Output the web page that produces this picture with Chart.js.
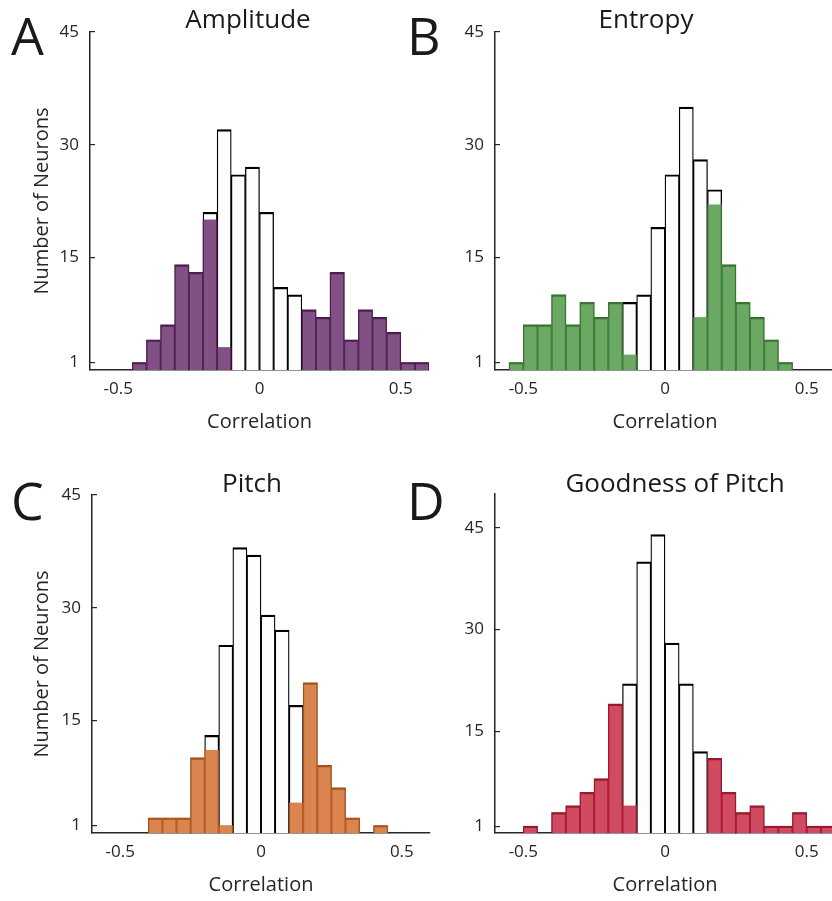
<!DOCTYPE html>
<html>
<head>
<meta charset="utf-8">
<script src="https://cdn.jsdelivr.net/npm/chart.js@4/dist/chart.umd.min.js"></script>
<style>
  html, body { margin: 0; padding: 0; background: #fff; overflow: hidden; width: 832px; height: 901px; position: relative; }
  canvas { position: absolute; }
</style>
</head>
<body>
<canvas id="chartA" width="450" height="450" style="left:0;top:0"></canvas>
<canvas id="chartB" width="440" height="450" style="left:400px;top:0"></canvas>
<canvas id="chartC" width="450" height="463" style="left:0;top:450px"></canvas>
<canvas id="chartD" width="440" height="463" style="left:400px;top:450px"></canvas>
<script>
// bin centres (0.05 wide bins, -0.6 .. 0.6)
const binCenters = [-0.575, -0.525, -0.475, -0.425, -0.375, -0.325, -0.275, -0.225, -0.175, -0.125, -0.075, -0.025,
                    0.025, 0.075, 0.125, 0.175, 0.225, 0.275, 0.325, 0.375, 0.425, 0.475, 0.525, 0.575];
const xTicks = [-0.5, 0, 0.5];
const yTicks = [1, 15, 30, 45];

// all neurons / significant neurons per bin
const amplitudeAll = [0, 0, 0, 1, 4, 6, 14, 13, 21, 32, 26, 27, 21, 11, 10, 8, 7, 13, 4, 8, 7, 5, 1, 1];
const amplitudeSig = [0, 0, 0, 1, 4, 6, 14, 13, 20, 3, 0, 0, 0, 0, 0, 8, 7, 13, 4, 8, 7, 5, 1, 1];
const entropyAll = [0, 1, 6, 6, 10, 6, 9, 7, 9, 9, 10, 19, 26, 35, 28, 24, 14, 9, 7, 4, 1, 0, 0, 0];
const entropySig = [0, 1, 6, 6, 10, 6, 9, 7, 9, 2, 0, 0, 0, 0, 7, 22, 14, 9, 7, 4, 1, 0, 0, 0];
const pitchAll = [0, 0, 0, 0, 2, 2, 2, 10, 13, 25, 38, 37, 29, 27, 17, 20, 9, 6, 2, 0, 1, 0, 0, 0];
const pitchSig = [0, 0, 0, 0, 2, 2, 2, 10, 11, 1, 0, 0, 0, 0, 4, 20, 9, 6, 2, 0, 1, 0, 0, 0];
const goodnessAll = [0, 0, 1, 0, 3, 4, 6, 8, 19, 22, 40, 44, 28, 22, 12, 11, 6, 3, 4, 1, 1, 3, 1, 1];
const goodnessSig = [0, 0, 1, 0, 3, 4, 6, 8, 19, 4, 0, 0, 0, 0, 0, 11, 6, 3, 4, 1, 1, 3, 1, 1];

const FONT = '"Open Sans", "Noto Sans", sans-serif';
const AXIS = '#262626';

// panel letter + title
const panelText = {
  id: 'panelText',
  afterDraw(chart, args, o) {
    const ctx = chart.ctx;
    ctx.save();
    ctx.fillStyle = '#1a1a1a';
    ctx.textBaseline = 'alphabetic';
    ctx.textAlign = 'left';
    ctx.font = '52px ' + FONT;
    ctx.fillText(o.letter, o.letterX, o.letterY);
    ctx.textAlign = 'center';
    ctx.font = '26px ' + FONT;
    ctx.fillText(o.title, o.titleX, o.titleY);
    ctx.restore();
  }
};

// empty bins are left out so no zero-height sliver is drawn
function points(vals) {
  return binCenters.map((c, i) => ({ x: c, y: vals[i] === 0 ? null : vals[i] }));
}

function makeChart(id, cfg) {
  new Chart(document.getElementById(id), {
    type: 'bar',
    data: {
      datasets: [
        {
          data: points(cfg.sig),
          backgroundColor: cfg.fill,
          borderWidth: 0,
          grouped: false,
          barPercentage: 1,
          categoryPercentage: 1,
          order: 0
        },
        {
          data: points(cfg.all),
          backgroundColor: '#fdfdfd',
          borderColor: '#000',
          borderWidth: { top: 2.2, left: 1.3, right: 1.3, bottom: 0 },
          grouped: false,
          barPercentage: 1,
          categoryPercentage: 1,
          order: 1
        }
      ]
    },
    options: {
      responsive: false,
      animation: false,
      layout: { padding: { left: 0, top: cfg.top, right: cfg.right, bottom: 0 } },
      plugins: {
        legend: { display: false },
        tooltip: { enabled: false },
        panelText: cfg.text
      },
      scales: {
        x: {
          type: 'linear',
          min: -0.6,
          max: 0.6,
          offset: false,
          afterBuildTicks: s => { s.ticks = xTicks.map(v => ({ value: v })); },
          afterFit: s => { s.height = 80; },
          ticks: { color: AXIS, font: { family: FONT, size: 17 }, padding: 14, callback: v => String(v) },
          grid: { drawOnChartArea: false, tickLength: -5, color: AXIS, lineWidth: 1.2 },
          border: { color: AXIS, width: 1.5 },
          title: { display: true, text: 'Correlation', color: AXIS, font: { family: FONT, size: 20 }, padding: { top: 0, bottom: 16 } }
        },
        y: {
          min: 0,
          max: cfg.ymax,
          afterBuildTicks: s => { s.ticks = yTicks.map(v => ({ value: v })); },
          afterFit: s => { s.width = cfg.yWidth; },
          ticks: { color: AXIS, font: { family: FONT, size: 17 }, padding: 16 },
          grid: { drawOnChartArea: false, tickLength: -5, color: AXIS, lineWidth: 1.2 },
          border: { color: AXIS, width: 1.5 },
          title: { display: cfg.ylabel, text: 'Number of Neurons', color: AXIS, font: { family: FONT, size: 20 }, padding: { top: 30, bottom: 0 } }
        }
      }
    },
    plugins: [panelText]
  });
}

makeChart('chartA', {
  all: amplitudeAll, sig: amplitudeSig,
  fill: 'rgba(98,38,104,0.8)',
  top: 32, right: 21, yWidth: 90, ymax: 45, ylabel: true,
  text: { letter: 'A', letterX: 11, letterY: 55, title: 'Amplitude', titleX: 248, titleY: 28 }
});
makeChart('chartB', {
  all: entropyAll, sig: entropySig,
  fill: 'rgba(70,146,60,0.8)',
  top: 32, right: 5, yWidth: 95, ymax: 45, ylabel: false,
  text: { letter: 'B', letterX: 7, letterY: 55, title: 'Entropy', titleX: 246, titleY: 28 }
});
makeChart('chartC', {
  all: pitchAll, sig: pitchSig,
  fill: 'rgba(209,101,35,0.8)',
  top: 45, right: 20, yWidth: 92, ymax: 45, ylabel: true,
  text: { letter: 'C', letterX: 11, letterY: 70, title: 'Pitch', titleX: 252, titleY: 42 }
});
makeChart('chartD', {
  all: goodnessAll, sig: goodnessSig,
  fill: 'rgba(196,30,59,0.8)',
  top: 44, right: 5, yWidth: 95, ymax: 50, ylabel: false,
  text: { letter: 'D', letterX: 7, letterY: 70, title: 'Goodness of Pitch', titleX: 275, titleY: 42 }
});
</script>
</body>
</html>
